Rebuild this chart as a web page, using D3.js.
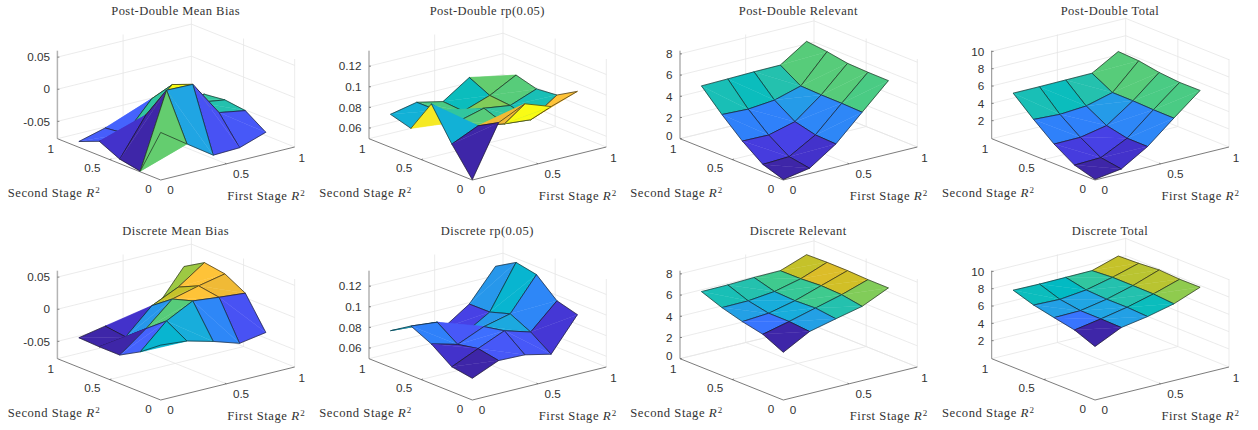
<!DOCTYPE html>
<html><head><meta charset="utf-8">
<style>html,body{margin:0;padding:0;background:#fff}svg{display:block}</style>
<script src="https://cdn.jsdelivr.net/npm/d3@7"></script></head>
<body><svg id="c" width="1258" height="430"></svg>
<script>
// grid of the two R^2 parameters (rows = second stage, columns = first stage)
const firstStage = [0, 0.2, 0.4, 0.6, 0.8];
const secondStage = [0, 0.2, 0.4, 0.6, 0.8];
const axisTicks = [0, 0.5, 1];

const titles = ["Post-Double Mean Bias","Post-Double rp(0.05)","Post-Double Relevant","Post-Double Total",
                "Discrete Mean Bias","Discrete rp(0.05)","Discrete Relevant","Discrete Total"];

const postBias = [
 [-0.003,-0.031,-0.0585,-0.057,-0.043],
 [-0.076,0.040,0.039,-0.015,-0.022],
 [-0.070,-0.011,0.026,-0.012,-0.018],
 [-0.055,-0.053,-0.0086,-0.018,-0.022],
 [-0.068,-0.057,-0.055,-0.039,-0.043]];
const postRp = [
 [0.050,0.099,0.111,0.102,0.1105],
 [0.0765,0.088,0.0836,0.0813,0.099],
 [0.1076,0.084,0.0908,0.0872,0.097],
 [0.0759,0.087,0.080,0.089,0.1025],
 [0.0816,0.087,0.0814,0.0985,0.0836]];
const postRelevant = [
 [0.05,0.5,2.18,4.56,6.93],
 [0.7,0.82,2.26,4.63,6.95],
 [2.13,2.09,2.74,4.65,7.02],
 [3.86,3.76,4.0,4.72,7.35],
 [5.79,5.84,5.9,5.92,7.55]];
const postTotal = [
 [0,0.45,2.29,4.82,7.27],
 [0.7,0.81,2.3,4.84,7.25],
 [2.18,2.21,2.82,4.93,7.46],
 [4.08,3.92,4.14,4.94,7.86],
 [6.17,6.17,6.2,6.23,7.99]];
const discBias = [
 [0.0085,0.0048,-0.006,-0.019,-0.0122],
 [-0.0148,0.0233,0.0444,0.040,0.0363],
 [-0.0325,-0.0014,0.0346,0.045,0.0536],
 [-0.0324,-0.027,0.0115,0.0303,0.0584],
 [-0.031,-0.023,-0.031,-0.0107,0.0396]];
const discRp = [
 [0.0707,0.0816,0.0809,0.0752,0.1073],
 [0.0739,0.0853,0.0963,0.0888,0.1128],
 [0.0881,0.0814,0.0924,0.0985,0.1303],
 [0.0976,0.095,0.077,0.0923,0.1342],
 [0.0851,0.0833,0.075,0.0921,0.1225]];
const discRelevant = [
 [4.5,5.85,6.44,7.0,8.13],
 [5.43,6.02,6.68,7.33,8.14],
 [5.85,6.03,6.6,7.41,8.22],
 [6.4,6.43,6.7,7.29,8.23],
 [7.14,7.16,7.25,7.28,8.18]];
const discTotal = [
 [6.1,7.54,8.06,8.78,9.95],
 [7.06,7.59,8.19,8.98,9.93],
 [7.54,7.6,8.17,9.0,10.06],
 [8.05,7.96,8.3,9.01,9.88],
 [8.82,8.78,8.81,8.84,9.78]];
const surfaces = [postBias,postRp,postRelevant,postTotal,discBias,discRp,discRelevant,discTotal];

const biasLim=[-0.077,0.06], rpLim=[0.0496,0.135], relLim=[0,8.3], totLim=[-0.08,10.08];
const zLims=[biasLim,rpLim,relLim,totLim,biasLim,rpLim,relLim,totLim];
const biasTicks=[-0.05,0,0.05], rpTicks=[0.06,0.08,0.1,0.12], relTicks=[0,2,4,6,8], totTicks=[2,4,6,8,10];
const zTicks=[biasTicks,rpTicks,relTicks,totTicks,biasTicks,rpTicks,relTicks,totTicks];

const parula=[[0.2422,0.1504,0.6603],[0.2504,0.1650,0.7076],[0.2578,0.1818,0.7511],[0.2647,0.1978,0.7952],[0.2706,0.2147,0.8364],[0.2751,0.2342,0.8710],[0.2783,0.2559,0.8991],[0.2803,0.2782,0.9221],[0.2813,0.3006,0.9414],[0.2810,0.3228,0.9579],[0.2795,0.3447,0.9717],[0.2760,0.3667,0.9829],[0.2699,0.3892,0.9906],[0.2602,0.4123,0.9952],[0.2440,0.4358,0.9988],[0.2206,0.4603,0.9973],[0.1963,0.4847,0.9892],[0.1834,0.5074,0.9798],[0.1786,0.5289,0.9682],[0.1764,0.5499,0.9520],[0.1687,0.5703,0.9359],[0.1540,0.5902,0.9218],[0.1460,0.6091,0.9079],[0.1380,0.6276,0.8973],[0.1248,0.6459,0.8883],[0.1113,0.6635,0.8763],[0.0952,0.6798,0.8598],[0.0689,0.6948,0.8394],[0.0297,0.7082,0.8163],[0.0036,0.7203,0.7917],[0.0067,0.7312,0.7660],[0.0433,0.7411,0.7394],[0.0964,0.7500,0.7120],[0.1408,0.7584,0.6842],[0.1717,0.7670,0.6554],[0.1938,0.7758,0.6251],[0.2161,0.7843,0.5923],[0.2470,0.7918,0.5567],[0.2906,0.7973,0.5188],[0.3406,0.8008,0.4789],[0.3909,0.8029,0.4354],[0.4456,0.8024,0.3909],[0.5044,0.7993,0.3480],[0.5616,0.7942,0.3045],[0.6174,0.7876,0.2612],[0.6720,0.7793,0.2227],[0.7242,0.7698,0.1910],[0.7738,0.7598,0.1646],[0.8203,0.7498,0.1535],[0.8634,0.7406,0.1596],[0.9035,0.7330,0.1774],[0.9393,0.7288,0.2100],[0.9728,0.7309,0.2394],[0.9956,0.7434,0.2371],[0.9970,0.7659,0.2199],[0.9952,0.7861,0.1993],[0.9892,0.8137,0.1885],[0.9786,0.8386,0.1766],[0.9676,0.8639,0.1643],[0.9610,0.8890,0.1537],[0.9597,0.9135,0.1423],[0.9628,0.9373,0.1265],[0.9691,0.9606,0.1064],[0.9769,0.9839,0.0805]]
 .map(c=>d3.rgb(c[0]*255,c[1]*255,c[2]*255).formatHex());

const originsX=[160.7,472.3,783.3,1095], originsY=[180,400];
const EX=[134,-33], EY=[-103.3,-41.3], EZ=88;
const xScale=d3.scaleLinear().domain([0,1.02]).range([0,1]);
const yScale=d3.scaleLinear().domain([0,1.01]).range([0,1]);

const svg=d3.select("#c");
const GRID="#e6e6e6", AXIS="#5a5a5a", TXT="#333";
const sans="'Liberation Sans',Arial,sans-serif", serif="'Liberation Serif',serif";

surfaces.forEach((Z,idx)=>{
  const col=idx%4,row=Math.floor(idx/4);
  const ox=originsX[col],oy=originsY[row];
  const zScale=d3.scaleLinear().domain(zLims[idx]).range([0,1]);
  const P=(x,y,z)=>{const a=xScale(x),b=yScale(y),c=zScale(z);
    return [ox+a*EX[0]+b*EY[0], oy+a*EX[1]+b*EY[1]-c*EZ];};
  const g=svg.append("g");
  const line=(p,q,color,w)=>g.append("line").attr("x1",p[0]).attr("y1",p[1]).attr("x2",q[0]).attr("y2",q[1]).attr("stroke",color).attr("stroke-width",w);
  const xMax=1.02,yMax=1.01;
  const [z0,z1]=zLims[idx];
  // back walls and floor grid
  zTicks[idx].forEach(t=>{
    line(P(0,yMax,t),P(xMax,yMax,t),GRID,0.8);
    line(P(xMax,yMax,t),P(xMax,0,t),GRID,0.8);
  });
  axisTicks.filter(t=>t>0&&t<1).forEach(t=>{
    line(P(t,yMax,z0),P(t,yMax,z1),GRID,0.8);
    line(P(xMax,t,z0),P(xMax,t,z1),GRID,0.8);
    line(P(t,0,z0),P(t,yMax,z0),GRID,0.8);
    line(P(0,t,z0),P(xMax,t,z0),GRID,0.8);
  });
  line(P(xMax,yMax,z0),P(xMax,yMax,z1),GRID,0.8);
  line(P(xMax,0,z0),P(xMax,0,z1),GRID,0.8);
  line(P(0,yMax,z0),P(xMax,yMax,z0),GRID,0.8);
  line(P(xMax,0,z0),P(xMax,yMax,z0),GRID,0.8);
  // axes
  const thick=(idx%4===0);
  line(P(0,yMax,z0),P(0,yMax,z1),thick?"#b4b4b4":AXIS,thick?1.5:0.7);
  line(P(0,0,z0),P(xMax,0,z0),AXIS,0.8);
  line(P(0,0,z0),P(0,yMax,z0),AXIS,0.8);
  zTicks[idx].forEach(t=>{
    const p=P(0,yMax,t);
    const nudge=(t===z0)?-2.5:0;
    line(p,[p[0]+2,p[1]],AXIS,0.7);
    g.append("text").attr("x",p[0]-7.5).attr("y",p[1]+nudge).attr("dy","0.36em").attr("text-anchor","end")
      .attr("font-family",sans).attr("font-size",11.7).attr("fill",TXT).text(String(t));
  });
  axisTicks.forEach(t=>{
    const p=P(t,0,z0),q=P(0,t,z0);
    if(t===0.5){ line(p,[p[0]-1.5,p[1]-0.7],AXIS,0.7); line(q,[q[0]+1.9,q[1]-0.5],AXIS,0.7); }
    g.append("text").attr("x",p[0]+6.5).attr("y",p[1]+10).attr("dy","0.36em").attr("text-anchor","start")
      .attr("font-family",sans).attr("font-size",11.7).attr("fill",TXT).text(String(t));
    g.append("text").attr("x",q[0]-(t===1?4.5:9)).attr("y",q[1]+(t===1?9.6:8.6)).attr("dy","0.36em").attr("text-anchor","end")
      .attr("font-family",sans).attr("font-size",11.7).attr("fill",TXT).text(String(t));
  });
  // surface: painter's order, each quad as two triangles split on one diagonal, outer edges only
  const extent=d3.extent(Z.flat());
  const color=d3.scaleQuantize().domain(extent).range(parula);
  const n=firstStage.length,m=secondStage.length;
  const V=(i,j)=>P(firstStage[i],secondStage[j],Z[j][i]);
  const pts=a=>a.map(p=>p.join(",")).join(" ");
  const EDGE="#101010";
  for(let j=m-2;j>=0;j--)for(let i=n-2;i>=0;i--){
    const c=color(Z[j][i]);
    const a=V(i,j),b=V(i+1,j),d=V(i+1,j+1),e=V(i,j+1);
    g.append("polygon").attr("points",pts([d,e,b])).attr("fill",c).attr("stroke",c).attr("stroke-width",0.4);
    g.append("polyline").attr("points",pts([e,d,b])).attr("fill","none").attr("stroke",EDGE).attr("stroke-width",0.6);
    g.append("polygon").attr("points",pts([a,b,e])).attr("fill",c).attr("stroke",c).attr("stroke-width",0.4);
    g.append("polyline").attr("points",pts([e,a,b])).attr("fill","none").attr("stroke",EDGE).attr("stroke-width",0.6);
  }
  // texts
  g.append("text").attr("x",ox+15).attr("y",oy-169).attr("dy","0.32em").attr("text-anchor","middle")
    .attr("font-family",serif).attr("font-size",12.5).attr("letter-spacing","0.45px").attr("fill",TXT).text(titles[idx]);
  const label=(x,y,s)=>{
    const t=g.append("text").attr("x",x).attr("y",y).attr("font-family",serif).attr("font-size",12.6).attr("letter-spacing","0.55px").attr("fill",TXT);
    t.append("tspan").text(s+" ");
    t.append("tspan").attr("font-style","italic").attr("font-size",13).text("R");
    t.append("tspan").attr("font-size",9).attr("dy",-4.5).attr("dx",0.5).text("2");
  };
  label(ox-153,oy+17,"Second Stage");
  label(ox+66.5,oy+20,"First Stage");
});
</script></body></html>
